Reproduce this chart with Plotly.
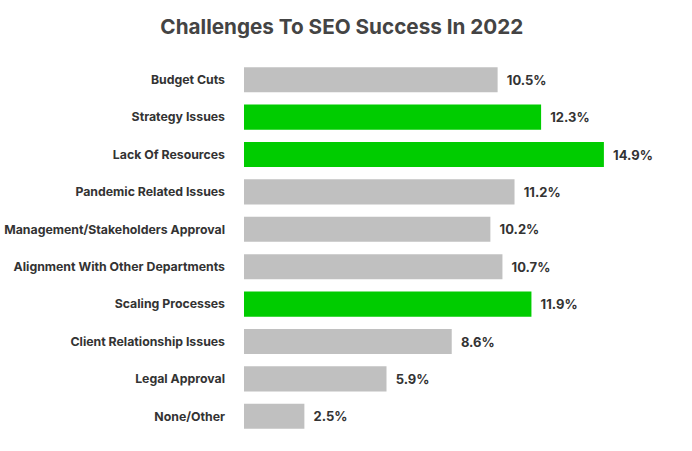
import plotly.graph_objects as go

categories = ["Budget Cuts", "Strategy Issues", "Lack Of Resources", "Pandemic Related Issues",
              "Management/Stakeholders Approval", "Alignment With Other Departments",
              "Scaling Processes", "Client Relationship Issues", "Legal Approval", "None/Other"]
values = [10.5, 12.3, 14.9, 11.2, 10.2, 10.7, 11.9, 8.6, 5.9, 2.5]
highlighted = [False, True, True, False, False, False, True, False, False, False]

GRAY = "#c0c0c0"
GREEN = "#00cc00"
colors = [GREEN if h else GRAY for h in highlighted]

fig = go.Figure(go.Bar(
    y=categories, x=values, orientation="h",
    marker=dict(color=colors, line=dict(width=0)),
    texttemplate="  %{x:.1f}%", textposition="outside", cliponaxis=False,
    textfont=dict(family="Inter", size=13, color="#333333", weight="bold"),
    width=0.67,
))

fig.update_layout(
    width=692, height=451,
    margin=dict(l=244, r=48, t=61, b=16, autoexpand=False),
    plot_bgcolor="white", paper_bgcolor="white",
    title=dict(text="<b>Challenges To SEO Success In 2022</b>", x=0.494, xanchor="center",
               y=0.94, yanchor="middle",
               font=dict(family="Inter", size=20.7, color="#444444")),
    xaxis=dict(range=[0, 16.56], visible=False, automargin=False),
    yaxis=dict(autorange="reversed", showgrid=False, showline=False, ticks="",
               automargin=False, ticklabelstandoff=18,
               tickfont=dict(family="Inter", size=12.3, color="#333333", weight="bold")),
    showlegend=False,
)

fig.write_html("out.html", config={"displayModeBar": False},
               post_script="document.body.style.margin='0px';")
